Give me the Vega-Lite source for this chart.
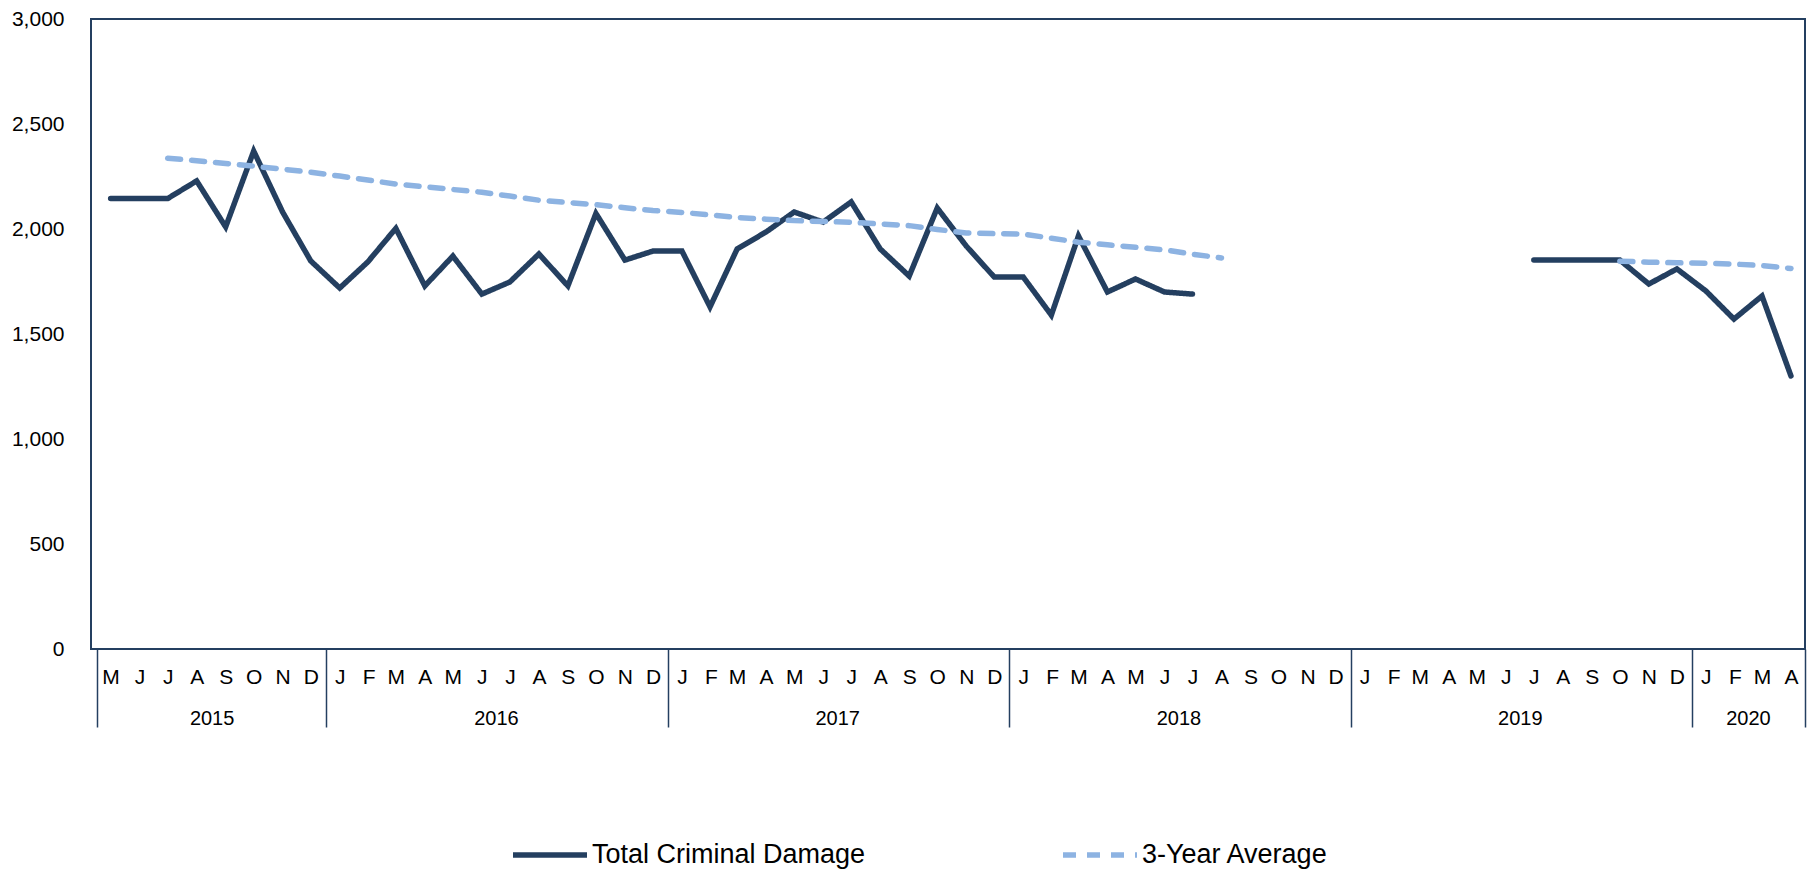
{
  "$schema": "https://vega.github.io/schema/vega-lite/v6.json",
  "width": 1714,
  "height": 630,
  "autosize": {"type": "none"},
  "padding": {"left": 91, "top": 19, "right": 5, "bottom": 222},
  "background": "white",
  "config": {
    "view": {"stroke": "#243f60", "strokeWidth": 2},
    "font": "Liberation Sans",
    "axis": {"labelFont": "Liberation Sans", "labelColor": "#000000"}
  },
  "data": {
    "values": [
      {"date": "2015-05-16", "series": "Total Criminal Damage", "seg": "a", "value": 2145},
      {"date": "2015-06-16", "series": "Total Criminal Damage", "seg": "a", "value": 2145},
      {"date": "2015-07-16", "series": "Total Criminal Damage", "seg": "a", "value": 2145},
      {"date": "2015-08-16", "series": "Total Criminal Damage", "seg": "a", "value": 2229},
      {"date": "2015-09-16", "series": "Total Criminal Damage", "seg": "a", "value": 2010},
      {"date": "2015-10-16", "series": "Total Criminal Damage", "seg": "a", "value": 2371},
      {"date": "2015-11-16", "series": "Total Criminal Damage", "seg": "a", "value": 2080},
      {"date": "2015-12-16", "series": "Total Criminal Damage", "seg": "a", "value": 1848},
      {"date": "2016-01-16", "series": "Total Criminal Damage", "seg": "a", "value": 1719},
      {"date": "2016-02-15", "series": "Total Criminal Damage", "seg": "a", "value": 1843},
      {"date": "2016-03-16", "series": "Total Criminal Damage", "seg": "a", "value": 2003},
      {"date": "2016-04-16", "series": "Total Criminal Damage", "seg": "a", "value": 1729},
      {"date": "2016-05-16", "series": "Total Criminal Damage", "seg": "a", "value": 1871},
      {"date": "2016-06-16", "series": "Total Criminal Damage", "seg": "a", "value": 1690},
      {"date": "2016-07-16", "series": "Total Criminal Damage", "seg": "a", "value": 1748},
      {"date": "2016-08-16", "series": "Total Criminal Damage", "seg": "a", "value": 1881},
      {"date": "2016-09-16", "series": "Total Criminal Damage", "seg": "a", "value": 1729},
      {"date": "2016-10-16", "series": "Total Criminal Damage", "seg": "a", "value": 2074},
      {"date": "2016-11-16", "series": "Total Criminal Damage", "seg": "a", "value": 1852},
      {"date": "2016-12-16", "series": "Total Criminal Damage", "seg": "a", "value": 1895},
      {"date": "2017-01-16", "series": "Total Criminal Damage", "seg": "a", "value": 1895},
      {"date": "2017-02-15", "series": "Total Criminal Damage", "seg": "a", "value": 1629},
      {"date": "2017-03-16", "series": "Total Criminal Damage", "seg": "a", "value": 1905},
      {"date": "2017-04-16", "series": "Total Criminal Damage", "seg": "a", "value": 1986},
      {"date": "2017-05-16", "series": "Total Criminal Damage", "seg": "a", "value": 2081},
      {"date": "2017-06-16", "series": "Total Criminal Damage", "seg": "a", "value": 2033},
      {"date": "2017-07-16", "series": "Total Criminal Damage", "seg": "a", "value": 2129},
      {"date": "2017-08-16", "series": "Total Criminal Damage", "seg": "a", "value": 1905},
      {"date": "2017-09-16", "series": "Total Criminal Damage", "seg": "a", "value": 1776},
      {"date": "2017-10-16", "series": "Total Criminal Damage", "seg": "a", "value": 2100},
      {"date": "2017-11-16", "series": "Total Criminal Damage", "seg": "a", "value": 1919},
      {"date": "2017-12-16", "series": "Total Criminal Damage", "seg": "a", "value": 1771},
      {"date": "2018-01-16", "series": "Total Criminal Damage", "seg": "a", "value": 1771},
      {"date": "2018-02-15", "series": "Total Criminal Damage", "seg": "a", "value": 1590},
      {"date": "2018-03-16", "series": "Total Criminal Damage", "seg": "a", "value": 1967},
      {"date": "2018-04-16", "series": "Total Criminal Damage", "seg": "a", "value": 1700},
      {"date": "2018-05-16", "series": "Total Criminal Damage", "seg": "a", "value": 1762},
      {"date": "2018-06-16", "series": "Total Criminal Damage", "seg": "a", "value": 1700},
      {"date": "2018-07-16", "series": "Total Criminal Damage", "seg": "a", "value": 1690},
      {"date": "2019-07-16", "series": "Total Criminal Damage", "seg": "b", "value": 1852},
      {"date": "2019-08-16", "series": "Total Criminal Damage", "seg": "b", "value": 1852},
      {"date": "2019-09-16", "series": "Total Criminal Damage", "seg": "b", "value": 1852},
      {"date": "2019-10-16", "series": "Total Criminal Damage", "seg": "b", "value": 1852},
      {"date": "2019-11-16", "series": "Total Criminal Damage", "seg": "b", "value": 1738},
      {"date": "2019-12-16", "series": "Total Criminal Damage", "seg": "b", "value": 1810},
      {"date": "2020-01-16", "series": "Total Criminal Damage", "seg": "b", "value": 1705},
      {"date": "2020-02-15", "series": "Total Criminal Damage", "seg": "b", "value": 1571},
      {"date": "2020-03-16", "series": "Total Criminal Damage", "seg": "b", "value": 1681},
      {"date": "2020-04-16", "series": "Total Criminal Damage", "seg": "b", "value": 1300},
      {"date": "2015-07-16", "series": "3-Year Average", "seg": "a", "value": 2337},
      {"date": "2015-08-16", "series": "3-Year Average", "seg": "a", "value": 2325},
      {"date": "2015-09-16", "series": "3-Year Average", "seg": "a", "value": 2312},
      {"date": "2015-10-16", "series": "3-Year Average", "seg": "a", "value": 2299},
      {"date": "2015-11-16", "series": "3-Year Average", "seg": "a", "value": 2285},
      {"date": "2015-12-16", "series": "3-Year Average", "seg": "a", "value": 2270},
      {"date": "2016-01-16", "series": "3-Year Average", "seg": "a", "value": 2252},
      {"date": "2016-02-15", "series": "3-Year Average", "seg": "a", "value": 2233},
      {"date": "2016-03-16", "series": "3-Year Average", "seg": "a", "value": 2214},
      {"date": "2016-04-16", "series": "3-Year Average", "seg": "a", "value": 2201},
      {"date": "2016-05-16", "series": "3-Year Average", "seg": "a", "value": 2188},
      {"date": "2016-06-16", "series": "3-Year Average", "seg": "a", "value": 2175},
      {"date": "2016-07-16", "series": "3-Year Average", "seg": "a", "value": 2157},
      {"date": "2016-08-16", "series": "3-Year Average", "seg": "a", "value": 2137},
      {"date": "2016-09-16", "series": "3-Year Average", "seg": "a", "value": 2126},
      {"date": "2016-10-16", "series": "3-Year Average", "seg": "a", "value": 2116},
      {"date": "2016-11-16", "series": "3-Year Average", "seg": "a", "value": 2101},
      {"date": "2016-12-16", "series": "3-Year Average", "seg": "a", "value": 2088},
      {"date": "2017-01-16", "series": "3-Year Average", "seg": "a", "value": 2079},
      {"date": "2017-02-15", "series": "3-Year Average", "seg": "a", "value": 2067},
      {"date": "2017-03-16", "series": "3-Year Average", "seg": "a", "value": 2055},
      {"date": "2017-04-16", "series": "3-Year Average", "seg": "a", "value": 2047},
      {"date": "2017-05-16", "series": "3-Year Average", "seg": "a", "value": 2040},
      {"date": "2017-06-16", "series": "3-Year Average", "seg": "a", "value": 2036},
      {"date": "2017-07-16", "series": "3-Year Average", "seg": "a", "value": 2032},
      {"date": "2017-08-16", "series": "3-Year Average", "seg": "a", "value": 2024},
      {"date": "2017-09-16", "series": "3-Year Average", "seg": "a", "value": 2016},
      {"date": "2017-10-16", "series": "3-Year Average", "seg": "a", "value": 1998},
      {"date": "2017-11-16", "series": "3-Year Average", "seg": "a", "value": 1981},
      {"date": "2017-12-16", "series": "3-Year Average", "seg": "a", "value": 1978},
      {"date": "2018-01-16", "series": "3-Year Average", "seg": "a", "value": 1976},
      {"date": "2018-02-15", "series": "3-Year Average", "seg": "a", "value": 1956},
      {"date": "2018-03-16", "series": "3-Year Average", "seg": "a", "value": 1937},
      {"date": "2018-04-16", "series": "3-Year Average", "seg": "a", "value": 1925},
      {"date": "2018-05-16", "series": "3-Year Average", "seg": "a", "value": 1913},
      {"date": "2018-06-16", "series": "3-Year Average", "seg": "a", "value": 1901},
      {"date": "2018-07-16", "series": "3-Year Average", "seg": "a", "value": 1880},
      {"date": "2018-08-16", "series": "3-Year Average", "seg": "a", "value": 1862},
      {"date": "2019-10-16", "series": "3-Year Average", "seg": "b", "value": 1847},
      {"date": "2019-11-16", "series": "3-Year Average", "seg": "b", "value": 1842},
      {"date": "2019-12-16", "series": "3-Year Average", "seg": "b", "value": 1839},
      {"date": "2020-01-16", "series": "3-Year Average", "seg": "b", "value": 1837},
      {"date": "2020-02-15", "series": "3-Year Average", "seg": "b", "value": 1833},
      {"date": "2020-03-16", "series": "3-Year Average", "seg": "b", "value": 1826},
      {"date": "2020-04-16", "series": "3-Year Average", "seg": "b", "value": 1812}
    ]
  },
  "layer": [
    {
      "mark": {"type": "line", "strokeWidth": 5.5, "strokeCap": "round", "strokeJoin": "miter"},
      "encoding": {
        "x": {
          "field": "date",
          "type": "temporal",
          "scale": {"type": "utc", "domain": [{"year": 2015, "month": 4, "date": 25, "utc": true}, {"year": 2020, "month": 5, "date": 1, "utc": true}], "nice": false},
          "axis": {
            "orient": "bottom",
            "tickCount": {"interval": "month", "step": 1},
            "ticks": false,
            "domain": false,
            "grid": false,
            "title": null,
            "labelExpr": "datum.value >= utc(2020,4,1) ? '' : substring(utcFormat(datum.value, '%b'), 0, 1)",
            "labelOffset": 14,
            "labelPadding": 28,
            "labelBaseline": "middle",
            "labelAlign": "center",
            "labelFontSize": 21,
            "labelOverlap": false,
            "labelFlush": false,
            "labelBound": false
          }
        },
        "y": {
          "field": "value",
          "type": "quantitative",
          "scale": {"domain": [0, 3000], "nice": false},
          "axis": {
            "values": [0, 500, 1000, 1500, 2000, 2500, 3000],
            "format": ",d",
            "ticks": false,
            "domain": false,
            "grid": false,
            "title": null,
            "labelPadding": 27,
            "labelFontSize": 21
          }
        },
        "color": {
          "field": "series",
          "type": "nominal",
          "scale": {"domain": ["Total Criminal Damage", "3-Year Average"], "range": ["#243f60", "#8db3e2"]},
          "legend": {
            "title": null,
            "orient": "none",
            "legendX": 419,
            "legendY": 796,
            "direction": "horizontal",
            "symbolType": "stroke",
            "symbolSize": 5476,
            "symbolStrokeWidth": 5.5,
            "labelFontSize": 27,
            "labelFont": "Liberation Sans",
            "labelColor": "#000000",
            "labelOffset": 2,
            "labelLimit": 500,
            "columnPadding": 186
          }
        },
        "strokeDash": {
          "field": "series",
          "type": "nominal",
          "scale": {"domain": ["Total Criminal Damage", "3-Year Average"], "range": [[1, 0], [13, 11]]}
        },
        "detail": {"field": "seg"}
      }
    },
    {
      "mark": {"type": "point", "opacity": 0},
      "encoding": {
        "x": {
          "field": "date",
          "type": "temporal",
          "scale": {"type": "utc", "domain": [{"year": 2015, "month": 4, "date": 25, "utc": true}, {"year": 2020, "month": 5, "date": 1, "utc": true}], "nice": false},
          "axis": {
            "orient": "bottom",
            "values": [
              {"year": 2015, "month": 5, "date": 1, "utc": true},
              {"year": 2016, "month": 1, "date": 1, "utc": true},
              {"year": 2017, "month": 1, "date": 1, "utc": true},
              {"year": 2018, "month": 1, "date": 1, "utc": true},
              {"year": 2019, "month": 1, "date": 1, "utc": true},
              {"year": 2020, "month": 1, "date": 1, "utc": true},
              {"year": 2020, "month": 5, "date": 1, "utc": true}
            ],
            "ticks": true,
            "tickSize": 78,
            "tickWidth": 1.5,
            "tickColor": "#243f60",
            "labels": false,
            "domain": false,
            "grid": false,
            "title": null
          }
        }
      }
    },
    {
      "mark": {"type": "point", "opacity": 0},
      "encoding": {
        "x": {
          "field": "date",
          "type": "temporal",
          "scale": {"type": "utc", "domain": [{"year": 2015, "month": 4, "date": 25, "utc": true}, {"year": 2020, "month": 5, "date": 1, "utc": true}], "nice": false},
          "axis": {
            "orient": "bottom",
            "values": [
              {"year": 2015, "month": 9, "date": 1, "utc": true},
              {"year": 2016, "month": 7, "date": 1, "utc": true},
              {"year": 2017, "month": 7, "date": 1, "utc": true},
              {"year": 2018, "month": 7, "date": 1, "utc": true},
              {"year": 2019, "month": 7, "date": 1, "utc": true},
              {"year": 2020, "month": 3, "date": 1, "utc": true}
            ],
            "ticks": false,
            "domain": false,
            "grid": false,
            "title": null,
            "labelExpr": "utcFormat(datum.value, '%Y')",
            "labelPadding": 69,
            "labelBaseline": "middle",
            "labelAlign": "center",
            "labelFontSize": 20,
            "labelOverlap": false,
            "labelFlush": false,
            "labelBound": false
          }
        }
      }
    }
  ],
  "resolve": {"axis": {"x": "independent"}}
}
